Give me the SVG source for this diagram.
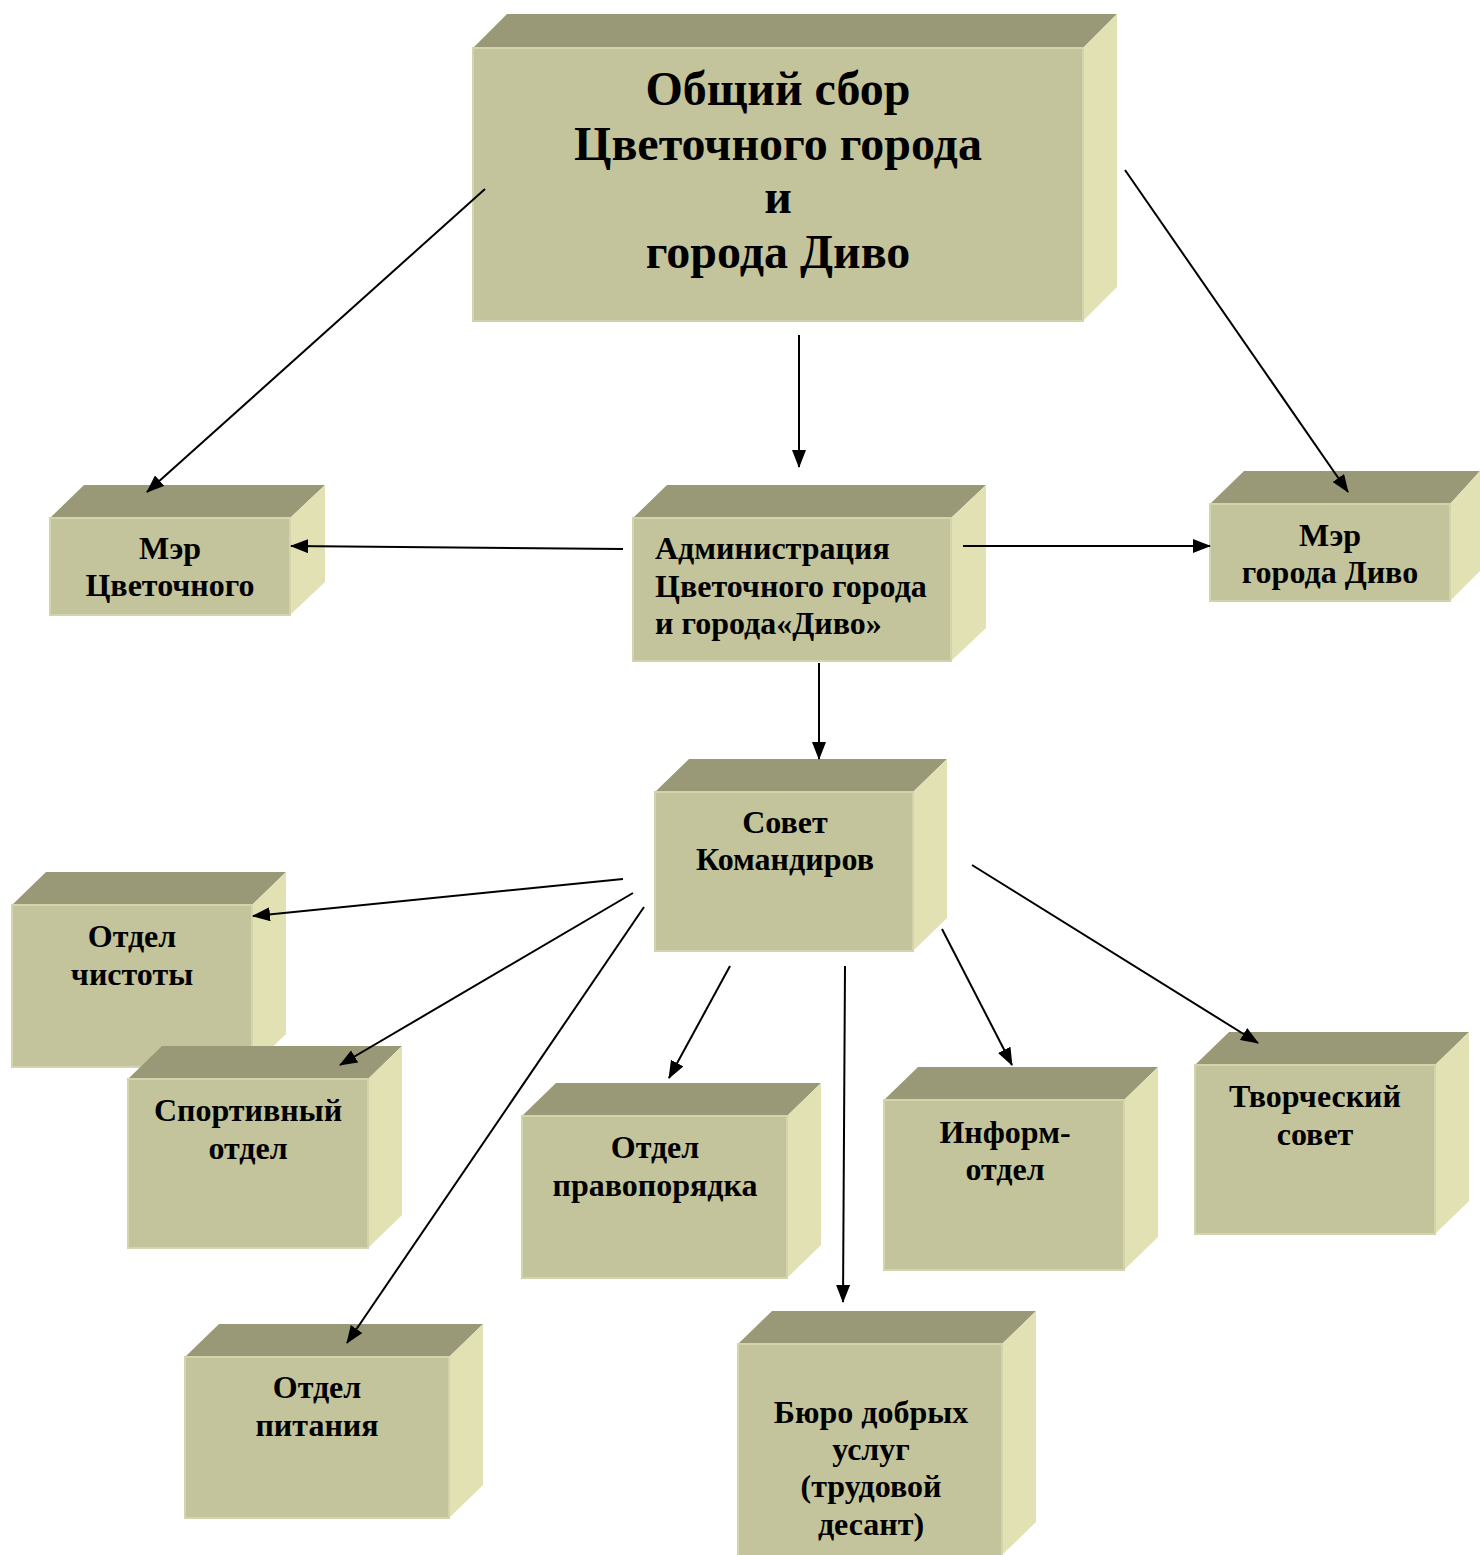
<svg xmlns="http://www.w3.org/2000/svg" width="1480" height="1555" viewBox="0 0 1480 1555">
<style>
.front{fill:#C3C49B;stroke:#D3D3AC;stroke-width:2}
.top{fill:#999877}
.side{fill:#E1E1B4}
text{font-family:"Liberation Serif","Times New Roman",serif;font-weight:bold;fill:#000}
.t{font-size:32px;text-anchor:middle}
.l{font-size:32px}
.big{font-size:48px;text-anchor:middle}
.c line{stroke:#000;stroke-width:2;marker-end:url(#ah)}
</style>
<defs>
<marker id="ah" markerWidth="18" markerHeight="14" refX="17" refY="7" orient="auto" markerUnits="userSpaceOnUse">
<path d="M0,0 L18,7 L0,14 Z" fill="#000"/>
</marker>
</defs>
<rect width="1480" height="1555" fill="#fff"/>

<g id="n-general">
<polygon class="top" points="473,48 507,14 1117,14 1083,48"/>
<polygon class="side" points="1083,48 1117,14 1117,287 1083,321"/>
<rect class="front" x="473" y="48" width="610" height="273"/>
<text class="big" x="778" y="105">Общий сбор</text>
<text class="big" x="778" y="160">Цветочного города</text>
<text class="big" x="778" y="213">и</text>
<text class="big" x="778" y="268">города Диво</text>
</g>

<g id="n-mayor-flower">
<polygon class="top" points="50,518 84,485 325,485 290,518"/>
<polygon class="side" points="290,518 325,485 325,582 290,615"/>
<rect class="front" x="50" y="518" width="240" height="97"/>
<text class="t" x="170" y="559">Мэр</text>
<text class="t" x="170" y="596">Цветочного</text>
</g>

<g id="n-admin">
<polygon class="top" points="633,518 667,485 986,485 951,518"/>
<polygon class="side" points="951,518 986,485 986,628 951,661"/>
<rect class="front" x="633" y="518" width="318" height="143"/>
<text class="l" x="655" y="559">Администрация</text>
<text class="l" x="655" y="597">Цветочного города</text>
<text class="l" x="655" y="634">и города«Диво»</text>
</g>

<g id="n-mayor-divo">
<polygon class="top" points="1210,504 1244,471 1480,471 1450,504"/>
<polygon class="side" points="1450,504 1480,471 1480,571 1450,601"/>
<rect class="front" x="1210" y="504" width="240" height="97"/>
<text class="t" x="1330" y="546">Мэр</text>
<text class="t" x="1330" y="583">города Диво</text>
</g>

<g id="n-council">
<polygon class="top" points="655,792 689,759 947,759 913,792"/>
<polygon class="side" points="913,792 947,759 947,918 913,951"/>
<rect class="front" x="655" y="792" width="258" height="159"/>
<text class="t" x="785" y="833">Совет</text>
<text class="t" x="785" y="870">Командиров</text>
</g>

<g id="n-clean">
<polygon class="top" points="12,905 46,872 286,872 252,905"/>
<polygon class="side" points="252,905 286,872 286,1034 252,1067"/>
<rect class="front" x="12" y="905" width="240" height="162"/>
<text class="t" x="132" y="947">Отдел</text>
<text class="t" x="132" y="985">чистоты</text>
</g>

<g id="n-sport">
<polygon class="top" points="128,1079 162,1046 402,1046 368,1079"/>
<polygon class="side" points="368,1079 402,1046 402,1215 368,1248"/>
<rect class="front" x="128" y="1079" width="240" height="169"/>
<text class="t" x="248" y="1121">Спортивный</text>
<text class="t" x="248" y="1159">отдел</text>
</g>

<g id="n-order">
<polygon class="top" points="522,1116 556,1083 821,1083 787,1116"/>
<polygon class="side" points="787,1116 821,1083 821,1245 787,1278"/>
<rect class="front" x="522" y="1116" width="265" height="162"/>
<text class="t" x="655" y="1158">Отдел</text>
<text class="t" x="655" y="1196">правопорядка</text>
</g>

<g id="n-inform">
<polygon class="top" points="884,1100 918,1067 1158,1067 1124,1100"/>
<polygon class="side" points="1124,1100 1158,1067 1158,1237 1124,1270"/>
<rect class="front" x="884" y="1100" width="240" height="170"/>
<text class="t" x="1005" y="1143">Информ-</text>
<text class="t" x="1005" y="1180">отдел</text>
</g>

<g id="n-creative">
<polygon class="top" points="1195,1065 1229,1032 1469,1032 1435,1065"/>
<polygon class="side" points="1435,1065 1469,1032 1469,1201 1435,1234"/>
<rect class="front" x="1195" y="1065" width="240" height="169"/>
<text class="t" x="1315" y="1107">Творческий</text>
<text class="t" x="1315" y="1145">совет</text>
</g>

<g id="n-food">
<polygon class="top" points="185,1357 219,1324 483,1324 449,1357"/>
<polygon class="side" points="449,1357 483,1324 483,1485 449,1518"/>
<rect class="front" x="185" y="1357" width="264" height="161"/>
<text class="t" x="317" y="1398">Отдел</text>
<text class="t" x="317" y="1436">питания</text>
</g>

<g id="n-bureau">
<polygon class="top" points="738,1344 772,1311 1036,1311 1002,1344"/>
<polygon class="side" points="1002,1344 1036,1311 1036,1522 1002,1555"/>
<rect class="front" x="738" y="1344" width="264" height="215"/>
<text class="t" x="871" y="1423">Бюро добрых</text>
<text class="t" x="871" y="1460">услуг</text>
<text class="t" x="871" y="1497">(трудовой</text>
<text class="t" x="871" y="1535">десант)</text>
</g>

<g id="connectors" class="c">
<line x1="485" y1="189" x2="147" y2="492"/>
<line x1="799" y1="335" x2="799" y2="467"/>
<line x1="1125" y1="170" x2="1348" y2="492"/>
<line x1="623" y1="549" x2="291" y2="546"/>
<line x1="963" y1="546" x2="1210" y2="546"/>
<line x1="819" y1="663" x2="819" y2="759"/>
<line x1="623" y1="879" x2="253" y2="916"/>
<line x1="633" y1="893" x2="340" y2="1065"/>
<line x1="644" y1="907" x2="347" y2="1343"/>
<line x1="730" y1="966" x2="669" y2="1078"/>
<line x1="845" y1="966" x2="843" y2="1302"/>
<line x1="942" y1="929" x2="1012" y2="1065"/>
<line x1="972" y1="865" x2="1258" y2="1043"/>
</g>
</svg>
